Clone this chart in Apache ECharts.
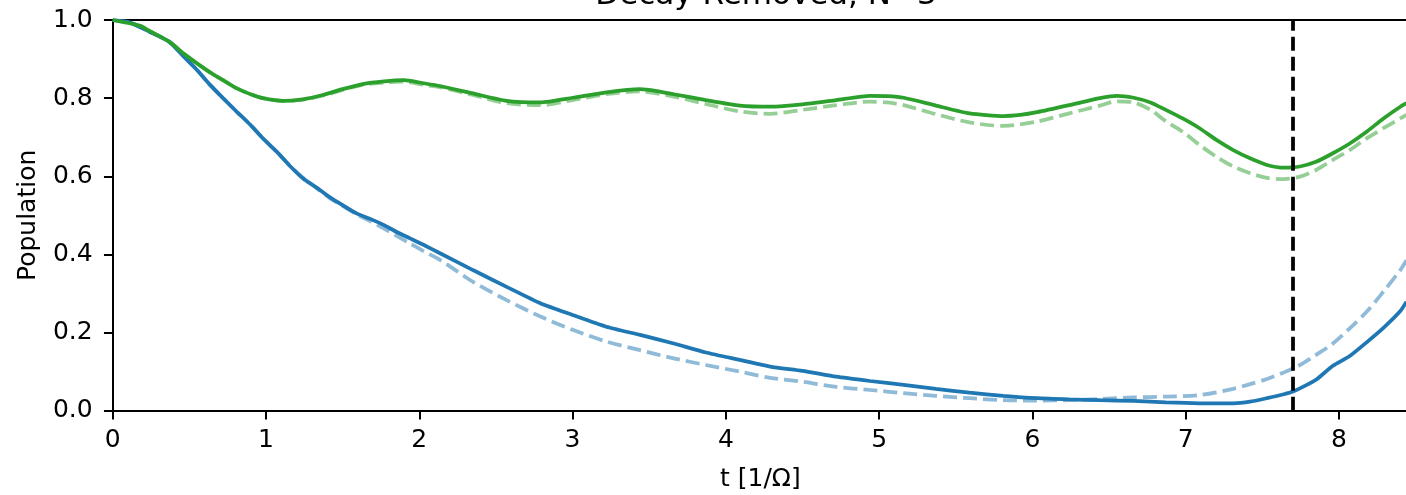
<!DOCTYPE html>
<html>
<head>
<meta charset="utf-8">
<script src="https://cdn.jsdelivr.net/npm/echarts@6/dist/echarts.min.js"></script>
<style>
html,body{margin:0;padding:0;background:#fff;}
#chart{width:1406px;height:495px;}
</style>
</head>
<body>
<div id="chart"></div>
<script>
const titleText = 'Decay Removed, N=3';
const xName = 't [1/\u03A9]';
const yName = 'Population';
const cutoffT = 7.7;

const blueSolidT = [0,0.11,0.24,0.37,0.46,0.55,0.635,0.72,0.81,0.90,0.98,1.07,1.15,1.24,1.33,1.41,1.50,1.59,1.68,1.77,1.85,1.94,2.03,2.135,2.35,2.57,2.79,3.0,3.22,3.44,3.66,3.87,4.09,4.29,4.50,4.72,4.94,5.16,5.37,5.59,5.81,6.03,6.24,6.44,6.66,6.87,7.09,7.31,7.42,7.53,7.64,7.70,7.79,7.85,7.96,8.07,8.18,8.29,8.40,8.44];
const blueSolidV = [1.0,0.994,0.970,0.944,0.908,0.872,0.834,0.800,0.765,0.731,0.697,0.663,0.629,0.595,0.571,0.548,0.526,0.505,0.491,0.475,0.458,0.441,0.424,0.403,0.360,0.317,0.275,0.245,0.215,0.194,0.172,0.149,0.130,0.113,0.102,0.087,0.076,0.066,0.056,0.046,0.038,0.032,0.029,0.027,0.025,0.021,0.019,0.019,0.023,0.032,0.042,0.049,0.066,0.079,0.115,0.140,0.175,0.212,0.255,0.279];

const blueDashT = [0,0.11,0.24,0.37,0.46,0.55,0.635,0.72,0.81,0.90,0.98,1.07,1.15,1.24,1.33,1.41,1.50,1.59,1.68,1.77,1.85,1.94,2.03,2.135,2.35,2.57,2.79,3.0,3.22,3.44,3.66,3.87,4.09,4.29,4.50,4.72,4.94,5.16,5.37,5.59,5.81,6.03,6.24,6.44,6.66,6.87,7.09,7.31,7.42,7.53,7.64,7.745,7.85,7.96,8.07,8.18,8.29,8.40,8.44];
const blueDashV = [1.0,0.994,0.970,0.944,0.908,0.872,0.834,0.800,0.765,0.731,0.697,0.663,0.629,0.597,0.570,0.546,0.524,0.503,0.485,0.466,0.448,0.428,0.408,0.386,0.330,0.283,0.241,0.207,0.177,0.155,0.134,0.117,0.100,0.084,0.074,0.061,0.053,0.045,0.038,0.032,0.027,0.026,0.027,0.030,0.034,0.036,0.040,0.056,0.068,0.081,0.098,0.117,0.143,0.172,0.211,0.253,0.305,0.360,0.385];

const greenSolidT = [0,0.18,0.24,0.37,0.46,0.55,0.635,0.72,0.81,0.90,0.98,1.11,1.24,1.37,1.50,1.63,1.77,1.90,2.03,2.135,2.35,2.57,2.79,3.0,3.22,3.44,3.55,3.66,3.87,4.09,4.29,4.50,4.72,4.94,5.05,5.16,5.37,5.59,5.81,5.92,6.03,6.24,6.44,6.55,6.66,6.77,6.87,6.98,7.09,7.20,7.31,7.42,7.53,7.64,7.745,7.85,7.96,8.07,8.18,8.29,8.40,8.44];
const greenSolidV = [1.0,0.985,0.972,0.944,0.915,0.889,0.866,0.846,0.825,0.810,0.800,0.793,0.797,0.808,0.823,0.836,0.843,0.846,0.838,0.831,0.812,0.793,0.789,0.801,0.815,0.823,0.818,0.810,0.795,0.781,0.778,0.784,0.795,0.806,0.805,0.801,0.781,0.761,0.754,0.757,0.764,0.782,0.800,0.806,0.801,0.789,0.770,0.748,0.723,0.693,0.667,0.646,0.629,0.622,0.625,0.637,0.659,0.684,0.714,0.748,0.778,0.787];

const greenDashT = [0,0.18,0.24,0.37,0.46,0.55,0.635,0.72,0.81,0.90,0.98,1.11,1.24,1.37,1.50,1.63,1.77,1.90,2.03,2.135,2.35,2.57,2.79,3.0,3.22,3.44,3.66,3.87,4.09,4.29,4.50,4.72,4.94,5.05,5.16,5.37,5.59,5.81,6.03,6.24,6.44,6.55,6.66,6.77,6.87,6.98,7.09,7.20,7.31,7.42,7.53,7.64,7.745,7.85,7.96,8.07,8.18,8.29,8.40,8.44];
const greenDashV = [1.0,0.985,0.972,0.944,0.915,0.889,0.866,0.846,0.825,0.810,0.800,0.793,0.796,0.806,0.821,0.834,0.840,0.842,0.834,0.828,0.808,0.787,0.782,0.795,0.810,0.817,0.804,0.785,0.766,0.760,0.770,0.782,0.791,0.789,0.782,0.759,0.738,0.729,0.740,0.761,0.781,0.792,0.789,0.770,0.741,0.714,0.680,0.650,0.625,0.608,0.596,0.593,0.599,0.616,0.642,0.667,0.697,0.723,0.748,0.757];

const xTicks = [0,1,2,3,4,5,6,7,8];
const yTicks = [0,0.2,0.4,0.6,0.8,1.0];

function zip(ts, vs){ return ts.map((t,i)=>[t, vs[i]]); }

const FONT = 'DejaVu Sans';
const LW = 3.75;
const chart = echarts.init(document.getElementById('chart'), null, {renderer:'canvas'});

const axisCommon = {
  axisLine:{show:true, onZero:false, lineStyle:{color:'#000', width:2}},
  axisTick:{show:true, inside:false, length:8.75, lineStyle:{color:'#000', width:2}},
  splitLine:{show:false},
};

chart.setOption({
  animation:false,
  backgroundColor:'#fff',
  title:{
    text:titleText, left:761, top:-25, textAlign:'center',
    textStyle:{fontFamily:FONT, fontSize:31, fontWeight:'normal', color:'#000'}
  },
  grid:{left:112.7, width:1295.3, top:20, bottom:84.3, containLabel:false, outerBoundsMode:'none'},
  xAxis:[{
    type:'value', min:0, max:8.45, interval:1, position:'bottom',
    ...axisCommon,
    name:xName, nameLocation:'middle', nameGap:56,
    nameTextStyle:{fontFamily:FONT, fontSize:25, color:'#000'},
    axisLabel:{fontFamily:FONT, fontSize:25, color:'#000', margin:17,
      formatter:v=> xTicks.includes(v) ? String(v) : ''}
  },{
    type:'value', min:0, max:8.45, position:'top',
    axisLine:{show:true, onZero:false, lineStyle:{color:'#000', width:2}},
    axisTick:{show:false}, axisLabel:{show:false}, splitLine:{show:false}
  }],
  yAxis:{
    type:'value', min:0, max:1, interval:0.2,
    ...axisCommon,
    name:yName, nameLocation:'middle', nameGap:72,
    nameTextStyle:{fontFamily:FONT, fontSize:25, color:'#000'},
    axisLabel:{fontFamily:FONT, fontSize:25, color:'#000', margin:20,
      formatter:v=> yTicks.some(t=>Math.abs(t-v)<1e-9) ? v.toFixed(1) : ''}
  },
  series:[
    {type:'line', data:zip(blueDashT, blueDashV), showSymbol:false, smooth:0.3,
      lineStyle:{color:'rgba(31,119,180,0.5)', width:LW, type:[14,6]}, z:2},
    {type:'line', data:zip(greenDashT, greenDashV), showSymbol:false, smooth:0.3,
      lineStyle:{color:'rgba(44,160,44,0.5)', width:LW, type:[14,6]}, z:2},
    {type:'line', data:zip(blueSolidT, blueSolidV), showSymbol:false, smooth:0.2,
      lineStyle:{color:'#1f77b4', width:LW}, z:3},
    {type:'line', data:zip(greenSolidT, greenSolidV), showSymbol:false, smooth:0.2,
      lineStyle:{color:'#2ca02c', width:LW}, z:3,
      markLine:{silent:true, symbol:'none', label:{show:false},
        lineStyle:{color:'#000', width:LW, type:[14,6]},
        data:[{xAxis:cutoffT}]}}
  ]
});
</script>
</body>
</html>
